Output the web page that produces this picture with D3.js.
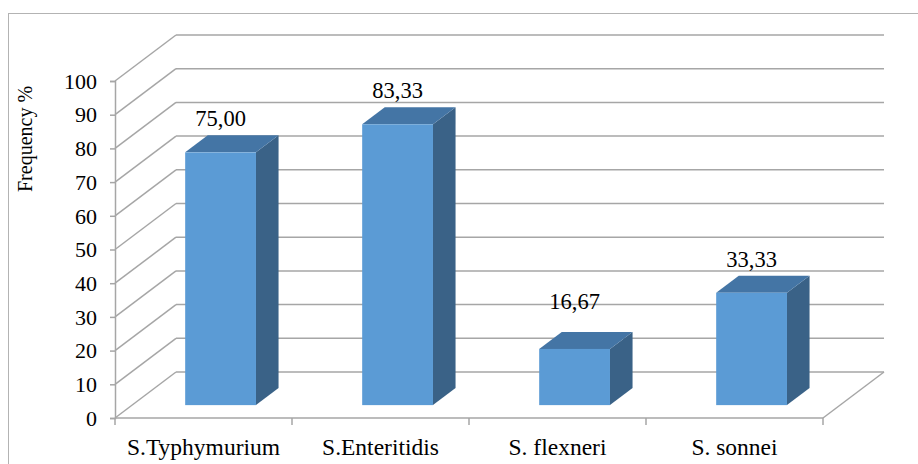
<!DOCTYPE html>
<html>
<head>
<meta charset="utf-8">
<script src="https://cdn.jsdelivr.net/npm/d3@7/dist/d3.min.js"></script>
<style>
  html, body { margin: 0; padding: 0; background: #fff; }
  svg { display: block; }
</style>
</head>
<body>
<svg id="chart" width="918" height="464"></svg>
<script>
// Isolation frequency per serotype / species
const categories = ["S.Typhymurium", "S.Enteritidis", "S. flexneri", "S. sonnei"];
const frequency = [75.00, 83.33, 16.67, 33.33];
const valueLabels = ["75,00", "83,33", "16,67", "33,33"];
const yTicks = [0, 10, 20, 30, 40, 50, 60, 70, 80, 90, 100];

const FONT = "'Liberation Serif', 'Times New Roman', Times, serif";
const svg = d3.select("#chart");
const W = 918, H = 464;

// front plane of the 3D box and its depth offset
const x0 = 115, x1 = 823, yBottom = 418, yTop = 81;
const DX = 61, DY = 46;

const x = d3.scaleBand().domain(categories).range([x0, x1]).paddingInner(0).paddingOuter(0);
const y = d3.scaleLinear().domain([0, 100]).range([yBottom, yTop]);

// project (px on front plane, value, depth 0..1) to screen coords
const P = (px, v, d) => [px + d * DX, y(v) - d * DY];

const gridColor = "#a6a6a6";

// chart area border
svg.append("rect")
  .attr("x", 8.5).attr("y", 13.5)
  .attr("width", W).attr("height", H)
  .attr("fill", "none").attr("stroke", "#b3b3b3").attr("stroke-width", 1);

const walls = svg.append("g").attr("fill", "none").attr("stroke", gridColor).attr("stroke-width", 1.5);

// back wall gridlines
walls.selectAll("line.back").data(yTicks).join("line")
  .attr("class", "back")
  .attr("x1", d => P(x0, d, 1)[0]).attr("y1", d => P(x0, d, 1)[1])
  .attr("x2", d => P(x1, d, 1)[0]).attr("y2", d => P(x1, d, 1)[1]);

// side wall gridlines
walls.selectAll("line.side").data(yTicks).join("line")
  .attr("class", "side")
  .attr("x1", d => P(x0, d, 0)[0]).attr("y1", d => P(x0, d, 0)[1])
  .attr("x2", d => P(x0, d, 1)[0]).attr("y2", d => P(x0, d, 1)[1]);

// floor right edge
walls.append("line")
  .attr("x1", P(x1, 0, 0)[0]).attr("y1", P(x1, 0, 0)[1])
  .attr("x2", P(x1, 0, 1)[0]).attr("y2", P(x1, 0, 1)[1]);

// value axis (front left edge)
const yAxis = d3.axisLeft(y).tickValues(yTicks).tickSize(5).tickPadding(13).tickFormat(d3.format("d"));
const gy = svg.append("g").attr("transform", `translate(${x0},0)`).call(yAxis);
gy.attr("font-family", null).attr("font-size", null);
gy.select(".domain").attr("stroke", gridColor).attr("stroke-width", 1.5);
gy.selectAll(".tick line").attr("stroke", gridColor).attr("stroke-width", 1.5);
gy.selectAll(".tick text")
  .style("font-family", FONT).style("font-size", "22px")
  .attr("fill", "#000")
  .attr("dy", "0.33em");

// category axis (front bottom edge)
svg.append("line")
  .attr("x1", x0).attr("x2", x1).attr("y1", yBottom).attr("y2", yBottom)
  .attr("stroke", gridColor).attr("stroke-width", 1.5);
const bounds = categories.map(c => x(c)).concat([x1]);
svg.selectAll("line.ctick").data(bounds).join("line")
  .attr("class", "ctick")
  .attr("x1", d => d).attr("x2", d => d)
  .attr("y1", yBottom).attr("y2", yBottom + 7)
  .attr("stroke", gridColor).attr("stroke-width", 1.5);
svg.selectAll("text.cat").data(categories).join("text")
  .attr("class", "cat")
  .attr("x", d => x(d) + x.bandwidth() / 2)
  .attr("y", 455)
  .attr("text-anchor", "middle")
  .style("font-family", FONT).style("font-size", "23.5px")
  .text(d => d);

// bars as 3D boxes
const barW = x.bandwidth() / 2.5;
const d0 = 0.28, d1 = 0.65;
const rows = categories.map((c, i) => ({ name: c, value: frequency[i], label: valueLabels[i] }));
const pts = arr => arr.map(p => p.join(",")).join(" ");

const bars = svg.selectAll("g.bar").data(rows).join("g").attr("class", "bar");
bars.each(function(d) {
  const g = d3.select(this);
  const L = x(d.name) + (x.bandwidth() - barW) / 2;
  const R = L + barW;
  // side face
  g.append("polygon")
    .attr("points", pts([P(R, 0, d0), P(R, 0, d1), P(R, d.value, d1), P(R, d.value, d0)]))
    .attr("fill", "#3a6287");
  // top face
  g.append("polygon")
    .attr("points", pts([P(L, d.value, d0), P(R, d.value, d0), P(R, d.value, d1), P(L, d.value, d1)]))
    .attr("fill", "#4475a5");
  // front face
  const [fx, fy] = P(L, d.value, d0);
  const [, fb] = P(L, 0, d0);
  g.append("rect")
    .attr("x", fx).attr("y", fy)
    .attr("width", barW).attr("height", fb - fy)
    .attr("fill", "#5b9bd5");
});

// value labels above each bar
const labelLift = d => d.name === "S. flexneri" ? 40 : 26;
svg.selectAll("text.val").data(rows).join("text")
  .attr("class", "val")
  .attr("x", d => P(x(d.name) + x.bandwidth() / 2, d.value, d0)[0])
  .attr("y", d => P(0, d.value, d0)[1] - labelLift(d))
  .attr("text-anchor", "middle")
  .style("font-family", FONT).style("font-size", "22.5px")
  .text(d => d.label);

// axis title
svg.append("text")
  .attr("transform", "translate(32,139) rotate(-90)")
  .attr("text-anchor", "middle")
  .style("font-family", FONT).style("font-size", "20px")
  .text("Frequency %");
</script>
</body>
</html>
